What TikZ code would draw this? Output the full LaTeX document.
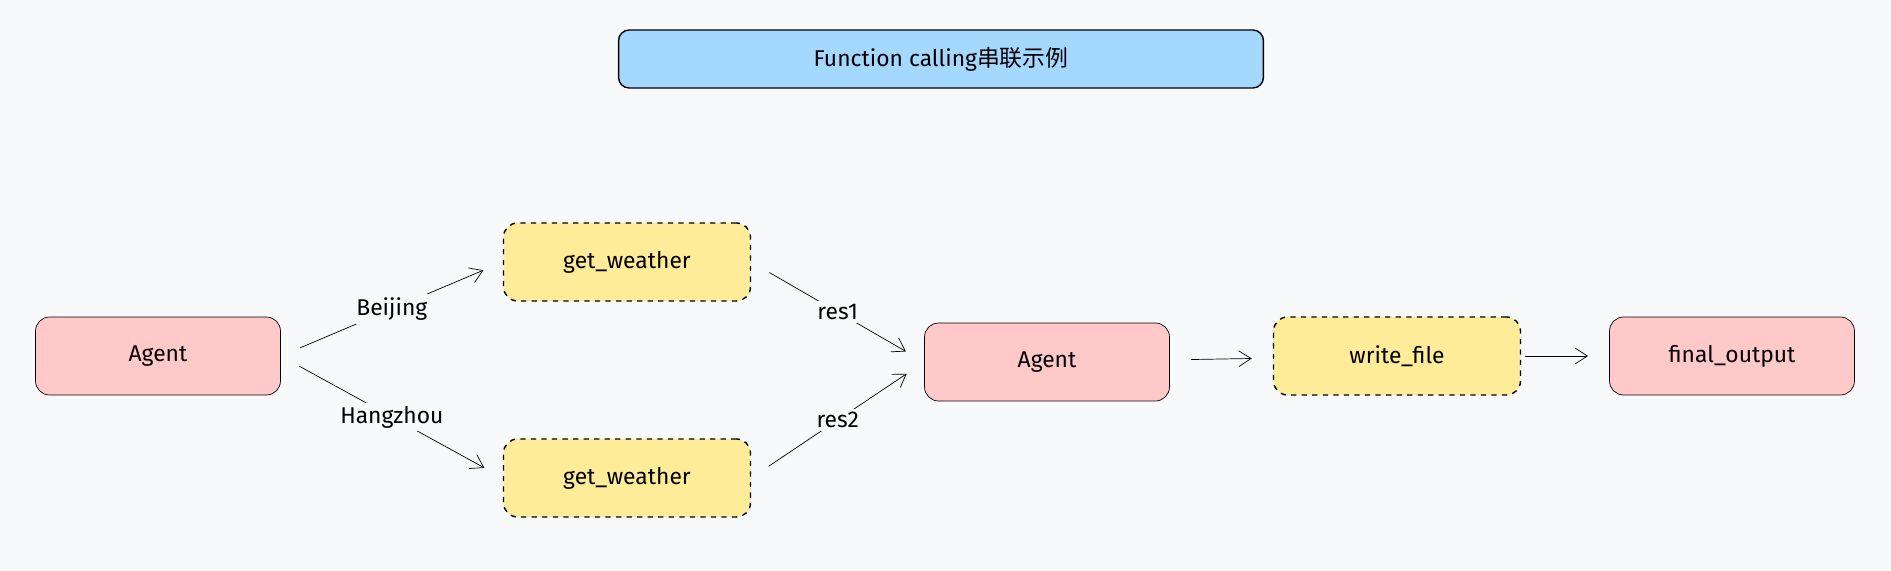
\documentclass[tikz,border=0pt]{standalone}
\usepackage{fontspec}
\setmainfont{Fira Sans}
\newfontfamily\cjk{Noto Sans CJK SC}
\usetikzlibrary{arrows.meta, positioning}
\definecolor{bgcol}{HTML}{F8F9FB}
\definecolor{agentfill}{HTML}{FFC9C9}
\definecolor{toolfill}{HTML}{FFEC99}
\definecolor{titlefill}{HTML}{A5D8FF}
\tikzstyle{agent} = [rectangle, draw, fill=agentfill, rounded corners=8pt, minimum width=4.9cm, minimum height=1.56cm]
\tikzstyle{tool} = [rectangle, draw, dashed, thick, fill=toolfill, rounded corners=8pt, minimum width=4.94cm, minimum height=1.56cm]
\tikzstyle{arrow} = [-{Straight Barb[length=7pt,width=9pt]}, shorten <=12pt, shorten >=12pt]
\tikzstyle{lbl} = [fill=bgcol, inner sep=2pt]
\begin{document}
\begin{tikzpicture}[x=0.02cm, y=-0.02cm, font=\fontsize{13}{15}\selectfont]
\fill[bgcol] (0,0) rectangle (1891,571);
\useasboundingbox (0,0) rectangle (1891,571);

% title
\node[rectangle, draw, thick, fill=titlefill, rounded corners=6pt, minimum width=12.9cm, minimum height=1.16cm] (title) at (941,59) {Function calling{\cjk 串联示例}};

% nodes
\node[agent] (agent1) at (158,356) {Agent};
\node[tool] (weather1) at (627,262) {get\_weather};
\node[tool] (weather2) at (627,478) {get\_weather};
\node[agent] (agent2) at (1047,362) {Agent};
\node[tool] (write) at (1397,356) {write\_file};
\node[agent] (final) at (1732,356) {final\_output};

% arrows
\draw[arrow] (agent1.east) -- node[lbl] {Beijing} (weather1.west);
\draw[arrow] (agent1.east) -- node[lbl] {Hangzhou} (weather2.west);
\draw[arrow] (weather1.east) -- node[lbl] {res1} (agent2.west);
\draw[arrow] (weather2.east) -- node[lbl] {res2} (agent2.west);
\draw[arrow] (agent2) -- (write);
\draw[arrow, shorten <=2pt] (write) -- (final);

\end{tikzpicture}
\end{document}
